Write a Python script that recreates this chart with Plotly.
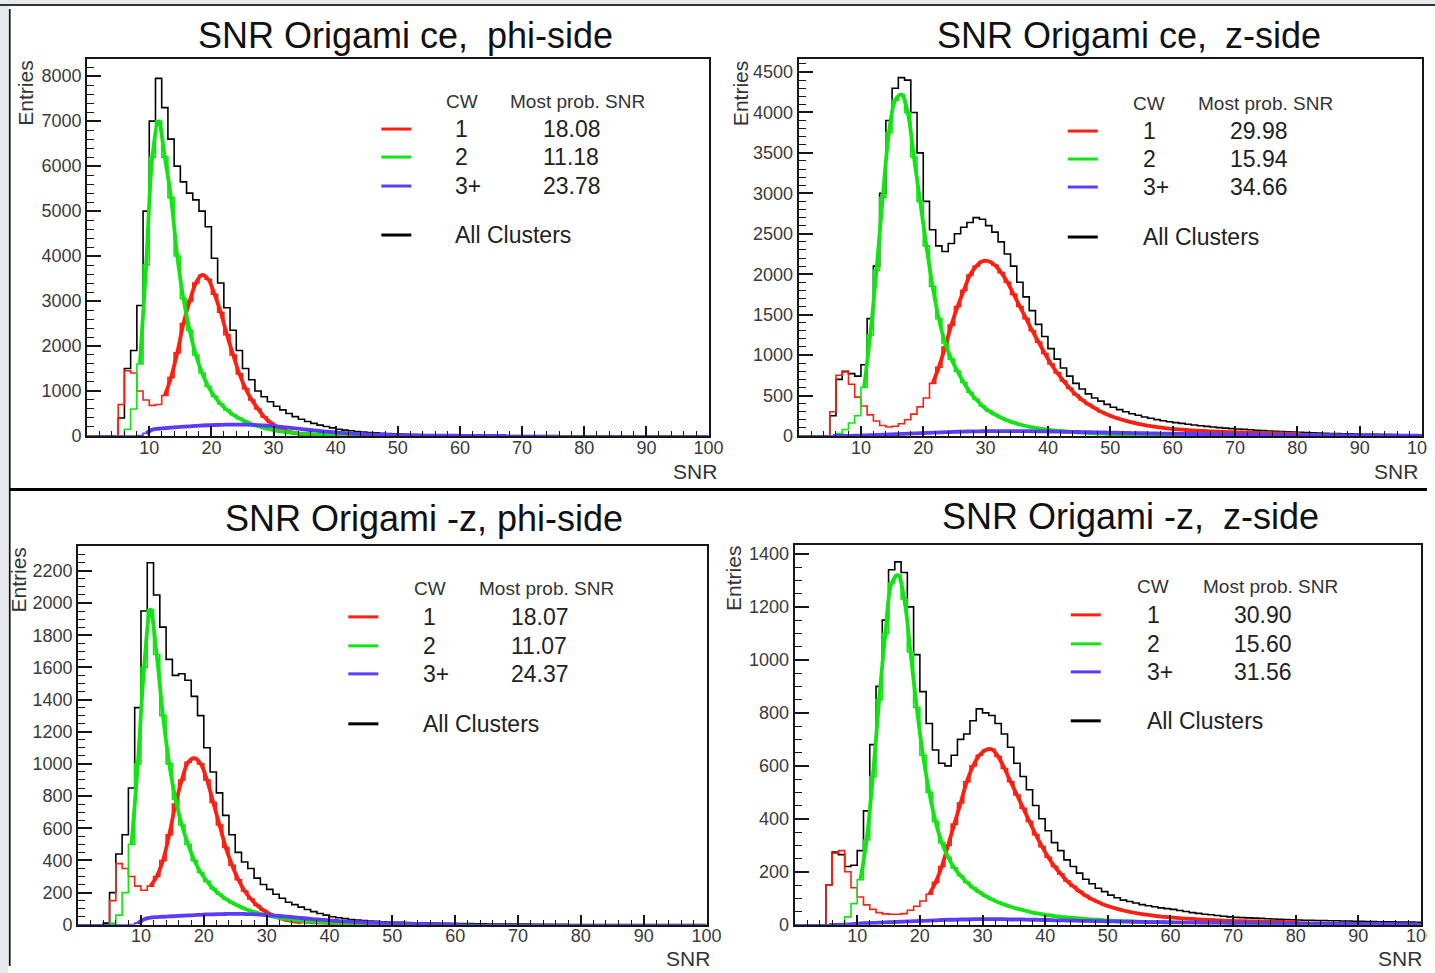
import plotly.graph_objects as go

# ---------------- DATA (1-unit SNR bins, bin k covers [k, k+1)) ----------------
BIN_LO = 0
BIN_W = 1

# Panel 1: SNR Origami ce, phi-side
ce_phi_all = [0,0,0,0,0,400,1500,1900,2900,5000,
              7000,7950,7300,6600,6000,5650,5400,5250,5000,4650,
              3950,3400,2850,2350,1900,1500,1250,1000,870,760,
              660,580,500,430,370,320,280,240,210,180,
              150,130,115,100,88,78,68,60,52,46,
              40,36,32,29,26,23,21,19,17,16,
              15,14,13,12,11,10,10,9,9,8,
              8,7,7,6,6,6,5,5,5,5,
              4,4,4,4,4,3,3,3,3,3,
              3,3,3,2,2,2,2,2,2,2]
ce_phi_cw1 = [0,0,0,0,0,700,1450,1400,1000,800,
              680,700,900,1300,1850,2500,3000,3400,3580,3480,
              3150,2750,2250,1800,1380,1050,800,600,420,300,
              210,140,90,60,40,27,18,12,8,6,
              5,4,3,3,2,2,2,1,1,1,
              1,1,1,1,0,0,0,0,0,0,
              0,0,0,0,0,0,0,0,0,0,
              0,0,0,0,0,0,0,0,0,0,
              0,0,0,0,0,0,0,0,0,0,
              0,0,0,0,0,0,0,0,0,0]
ce_phi_cw2 = [0,0,0,0,0,0,150,600,1600,3800,
              6200,7000,6200,5300,4000,3050,2350,1800,1400,1100,
              880,710,580,470,390,320,260,215,175,145,
              115,95,78,64,53,44,37,31,26,22,
              19,16,14,12,10,9,8,7,6,5,
              5,4,4,3,3,3,2,2,2,2,
              1,1,1,1,1,1,1,1,1,0,
              0,0,0,0,0,0,0,0,0,0,
              0,0,0,0,0,0,0,0,0,0,
              0,0,0,0,0,0,0,0,0,0]
ce_phi_cw3 = [0,0,0,0,0,0,0,0,10,60,
              140,160,175,185,195,205,215,225,232,238,
              243,247,250,252,252,250,246,240,232,222,
              210,197,183,168,153,138,124,110,97,85,
              74,64,55,47,40,34,29,25,21,18,
              15,13,11,9,8,7,6,5,4,4,
              3,3,3,2,2,2,2,1,1,1,
              1,1,1,0,0,0,0,0,0,0,
              0,0,0,0,0,0,0,0,0,0,
              0,0,0,0,0,0,0,0,0,0]

# Panel 2: SNR Origami ce, z-side
ce_z_all = [0,0,0,0,0,250,700,800,770,740,
            880,1450,2100,3000,3900,4300,4430,4400,4000,3500,
            2900,2550,2350,2280,2380,2500,2580,2640,2700,2680,
            2600,2520,2400,2250,2100,1900,1720,1550,1380,1230,
            1080,950,840,740,650,580,520,470,430,390,
            355,325,300,275,255,235,218,202,188,175,
            165,155,145,135,126,118,110,103,97,91,
            86,81,76,71,66,62,58,55,51,48,
            45,42,39,36,33,31,29,27,25,23,
            21,20,19,18,17,15,14,13,12,11]
ce_z_cw1 = [0,0,0,0,0,300,750,790,640,480,
            370,260,185,130,110,120,150,200,270,360,
            470,650,850,1100,1370,1600,1800,1990,2100,2160,
            2160,2110,2020,1900,1750,1600,1450,1300,1160,1020,
            890,780,680,590,510,445,390,345,300,265,
            235,210,187,167,150,135,122,110,100,91,
            84,78,72,67,63,59,56,53,50,47,
            45,42,40,38,36,34,32,30,28,26,
            24,22,20,19,18,17,16,15,14,13,
            12,11,10,10,9,9,8,8,7,7]
ce_z_cw2 = [0,0,0,0,0,0,30,80,160,250,
            600,1250,2050,2950,3750,4150,4220,4000,3450,2900,
            2350,1850,1450,1150,950,800,660,540,450,370,
            310,265,225,192,165,142,123,107,94,83,
            73,65,58,51,45,40,36,32,29,26,
            23,21,19,17,15,14,13,12,11,10,
            9,8,8,7,7,6,6,5,5,5,
            4,4,4,4,3,3,3,3,3,3,
            2,2,2,2,2,2,2,2,2,2,
            1,1,1,1,1,1,1,1,1,1]
ce_z_cw3 = [0,0,0,0,0,0,0,0,2,4,
            6,9,12,15,18,22,25,28,31,34,
            37,40,43,46,49,52,54,56,57,58,
            59,60,60,60,60,59,59,58,57,56,
            55,54,52,51,49,48,46,45,43,42,
            40,39,37,36,34,33,32,30,29,28,
            27,26,25,24,23,22,21,20,19,18,
            17,16,16,15,14,14,13,12,12,11,
            11,10,10,9,9,9,8,8,8,7,
            7,7,6,6,6,6,5,5,5,5]

# Panel 3: SNR Origami -z, phi-side
mz_phi_all = [0,0,0,0,10,200,440,560,850,1350,
              1950,2250,2050,1850,1650,1550,1560,1520,1420,1300,
              1100,950,820,680,560,450,390,350,290,250,
              220,190,165,140,125,110,95,82,70,60,
              50,44,38,33,29,26,23,21,19,17,
              16,15,14,13,12,11,10,9,9,8,
              8,7,7,6,6,5,5,5,4,4,
              4,4,3,3,3,3,3,3,2,2,
              2,2,2,2,2,2,2,2,2,2,
              2,1,1,1,1,1,1,1,1,1]
mz_phi_cw1 = [0,0,0,0,0,150,380,350,300,240,
              215,240,300,400,560,750,900,1010,1035,1000,
              900,760,620,480,370,280,210,160,120,90,
              68,50,37,27,20,15,11,8,6,5,
              4,3,3,2,2,2,1,1,1,1,
              0,0,0,0,0,0,0,0,0,0,
              0,0,0,0,0,0,0,0,0,0,
              0,0,0,0,0,0,0,0,0,0,
              0,0,0,0,0,0,0,0,0,0,
              0,0,0,0,0,0,0,0,0,0]
mz_phi_cw2 = [0,0,0,0,0,10,60,200,500,1000,
              1600,1960,1680,1300,1000,780,620,500,400,325,
              270,225,190,160,137,118,100,86,74,63,
              55,47,40,34,29,25,21,18,16,14,
              12,10,9,8,7,6,5,5,4,4,
              3,3,3,2,2,2,2,1,1,1,
              1,1,1,0,0,0,0,0,0,0,
              0,0,0,0,0,0,0,0,0,0,
              0,0,0,0,0,0,0,0,0,0,
              0,0,0,0,0,0,0,0,0,0]
mz_phi_cw3 = [0,0,0,0,0,0,0,0,2,10,
              35,45,48,50,52,54,56,58,60,62,
              64,65,66,67,68,68,67,66,64,62,
              59,56,53,50,46,42,39,35,32,29,
              26,23,21,19,17,15,13,12,10,9,
              8,7,6,6,5,5,4,4,3,3,
              3,3,2,2,2,2,2,1,1,1,
              1,1,1,1,0,0,0,0,0,0,
              0,0,0,0,0,0,0,0,0,0,
              0,0,0,0,0,0,0,0,0,0]

# Panel 4: SNR Origami -z, z-side
mz_z_all = [0,0,0,0,0,150,275,265,220,225,
            280,430,680,900,1150,1340,1370,1330,1200,1020,
            880,760,660,610,600,640,700,720,770,815,
            800,790,760,720,670,610,560,510,450,400,
            355,310,280,245,220,195,172,155,138,125,
            112,102,93,88,82,76,72,68,64,61,
            58,54,50,46,43,40,38,35,32,30,
            28,27,26,25,24,23,22,21,20,19,
            18,17,17,16,16,15,15,14,14,13,
            13,12,12,11,11,11,10,10,10,9]
mz_z_cw1 = [0,0,0,0,0,150,270,280,200,140,
            105,75,58,46,41,40,40,42,55,70,
            90,115,160,220,300,380,460,540,600,640,
            660,662,635,590,540,490,440,390,340,295,
            255,220,192,165,145,126,110,96,85,75,
            67,60,54,49,44,40,37,34,31,29,
            27,25,23,22,20,19,18,17,16,15,
            14,14,13,13,12,12,11,11,10,10,
            9,9,8,8,8,7,7,7,6,6,
            6,5,5,5,5,4,4,4,4,4]
mz_z_cw2 = [0,0,0,0,0,0,0,5,30,80,
            170,320,560,850,1100,1290,1320,1230,1030,820,
            640,500,390,310,255,215,185,160,140,123,
            108,96,85,76,68,61,55,49,44,40,
            36,33,30,28,26,24,22,20,19,17,
            16,15,14,13,12,11,11,10,10,9,
            9,8,8,7,7,7,6,6,6,5,
            5,5,4,4,4,4,3,3,3,3,
            3,3,2,2,2,2,2,2,2,2,
            2,1,1,1,1,1,1,1,1,1]
mz_z_cw3 = [0,0,0,0,0,0,0,0,1,3,
            5,6,7,8,9,10,11,12,13,14,
            15,16,17,18,19,19,20,20,21,21,
            21,21,21,21,20,20,20,19,19,18,
            18,17,17,16,16,15,15,14,14,13,
            13,12,12,12,11,11,10,10,10,9,
            9,9,8,8,8,7,7,7,7,6,
            6,6,6,5,5,5,5,5,4,4,
            4,4,4,4,4,3,3,3,3,3,
            3,3,3,3,2,2,2,2,2,2]

# Legend values (most probable SNR from the fits)
cw_labels = ["1", "2", "3+"]
mpv_ce_phi = ["18.08", "11.18", "23.78"]
mpv_ce_z = ["29.98", "15.94", "34.66"]
mpv_mz_phi = ["18.07", "11.07", "24.37"]
mpv_mz_z = ["30.90", "15.60", "31.56"]

# Fit ranges (first bin, last bin) for cw1, cw2, cw3+
fit_ce_phi = [(12, 40), (8, 50), (9, 67)]
fit_ce_z = [(21, 80), (10, 60), (5, 99)]
fit_mz_phi = [(11, 35), (8, 45), (9, 60)]
fit_mz_z = [(21, 80), (10, 60), (5, 99)]

# ---------------- LAYOUT / STYLE ----------------
# The photographed page is ~1451x984 css px shrunk to 1435x973; the page keeps its
# default 8px body margin.  Positions below are given in photo pixels.
S = 1451 / 1435
OFF = 8
W, H = 1443, 968
def px(x):                   # photo pixel -> paper fraction
    return (x * S - OFF) / W
def py(y):
    return 1 - (y * S - OFF) / H

FONT = "Liberation Sans, Arial, Helvetica, sans-serif"
RED, GREEN, BLUE, BLACK = "#ff1f10", "#12e312", "#5a3cff", "#000000"
COLS = [RED, GREEN, BLUE]
GREY = "#e7e9ec"

panels = [
    dict(all=ce_phi_all, cws=[ce_phi_cw1, ce_phi_cw2, ce_phi_cw3], fits=fit_ce_phi, mpv=mpv_ce_phi,
         box=(87, 58, 708, 435), ymax=8380, dtick=1000, mdtick=200,
         title=[("SNR Origami ce,", 470, "right"), ("phi-side", 485, "left")], ty=34,
         ent=(25, 58), snr=(718, 471),
         leg=dict(lx=(381, 411), cw=(444, 508), item=453, val=541, hy=100, rows=[128, 156, 185], ally=234)),
    dict(all=ce_z_all, cws=[ce_z_cw1, ce_z_cw2, ce_z_cw3], fits=fit_ce_z, mpv=mpv_ce_z,
         box=(798, 58, 1421, 435), ymax=4660, dtick=500, mdtick=100,
         title=[("SNR Origami ce,", 1208, "right"), ("z-side", 1222, "left")], ty=34,
         ent=(740, 58), snr=(1419, 471),
         leg=dict(lx=(1067, 1097), cw=(1130, 1195), item=1140, val=1227, hy=102, rows=[130, 158, 186], ally=236)),
    dict(all=mz_phi_all, cws=[mz_phi_cw1, mz_phi_cw2, mz_phi_cw3], fits=fit_mz_phi, mpv=mpv_mz_phi,
         box=(78, 545, 706, 924), ymax=2355, dtick=200, mdtick=50,
         title=[("SNR Origami -z, phi-side", 424, "center")], ty=518,
         ent=(18, 545), snr=(711, 958),
         leg=dict(lx=(348, 378), cw=(412, 477), item=421, val=509, hy=588, rows=[616, 645, 673], ally=723)),
    dict(all=mz_z_all, cws=[mz_z_cw1, mz_z_cw2, mz_z_cw3], fits=fit_mz_z, mpv=mpv_mz_z,
         box=(794, 544, 1420, 924), ymax=1434, dtick=200, mdtick=50,
         title=[("SNR Origami -z,", 1205, "right"), ("z-side", 1220, "left")], ty=516,
         ent=(733, 543), snr=(1423, 958),
         leg=dict(lx=(1070, 1100), cw=(1134, 1200), item=1144, val=1231, hy=586, rows=[614, 643, 671], ally=720)),
]

fig = go.Figure()
shapes = []
annotations = []

# page frame: left black border and the black separator between the rows
shapes.append(dict(type="line", xref="paper", yref="paper", x0=px(9.5), x1=px(9.5), y0=0, y1=1,
                   line=dict(color="#111111", width=2)))
shapes.append(dict(type="line", xref="paper", yref="paper", x0=px(9), x1=1, y0=py(488.5), y1=py(488.5),
                   line=dict(color="#000000", width=3)))
shapes.append(dict(type="rect", xref="paper", yref="paper", x0=0, x1=px(8.6), y0=0, y1=1,
                   fillcolor=GREY, line=dict(width=0)))

edges = [BIN_LO + BIN_W * k for k in range(len(ce_phi_all) + 1)]
centers = [BIN_LO + BIN_W * (k + 0.5) for k in range(len(ce_phi_all))]

for i, p in enumerate(panels):
    n = "" if i == 0 else str(i + 1)
    xa, ya = "x" + n, "y" + n
    l, t, r, b = p["box"]
    # histograms (thin, step)
    hists = [(p["all"], BLACK)] + list(zip(p["cws"], COLS))
    for vals, col in hists:
        fig.add_trace(go.Scatter(x=edges, y=list(vals) + [vals[-1]], mode="lines",
                                 line=dict(color=col, width=1.6, shape="hv"),
                                 xaxis=xa, yaxis=ya, showlegend=False, hoverinfo="skip"))
    # fits (thick, smooth)
    for vals, col, (a, z) in zip(p["cws"], COLS, p["fits"]):
        fig.add_trace(go.Scatter(x=centers[a:z + 1], y=vals[a:z + 1], mode="lines",
                                 line=dict(color=col, width=3.8, shape="spline", smoothing=1.0),
                                 xaxis=xa, yaxis=ya, showlegend=False, hoverinfo="skip"))

    axcommon = dict(showline=True, linecolor="#161616", linewidth=2, mirror=True,
                    ticks="inside", tickcolor="#161616", tickwidth=1.6,
                    showgrid=False, zeroline=False,
                    tickfont=dict(family=FONT, size=18, color="#3a3a3a"))
    fig.layout["xaxis" + n] = dict(axcommon, domain=[px(l), px(r)], range=[0, 100], anchor=ya,
                                   tickmode="array", tickvals=[10, 20, 30, 40, 50, 60, 70, 80, 90, 100],
                                   ticklen=10, ticklabelstandoff=-6,
                                   minor=dict(ticks="inside", ticklen=5, tickwidth=1.3, tickcolor="#161616",
                                              tickmode="linear", tick0=0, dtick=2))
    fig.layout["yaxis" + n] = dict(axcommon, domain=[py(b), py(t)], range=[0, p["ymax"]], anchor=xa,
                                   tickmode="linear", tick0=0, dtick=p["dtick"], ticklen=14,
                                   minor=dict(ticks="inside", ticklen=7, tickwidth=1.3, tickcolor="#161616",
                                              tickmode="linear", tick0=0, dtick=p["mdtick"]))

    # titles
    for txt, x, anc in p["title"]:
        annotations.append(dict(text=txt, x=px(x), y=py(p["ty"]), xref="paper", yref="paper",
                                xanchor=anc, yanchor="middle", showarrow=False,
                                font=dict(family=FONT, size=36, color="#111111")))
    # axis titles
    annotations.append(dict(text="Entries", x=px(p["ent"][0]), y=py(p["ent"][1]), xref="paper", yref="paper",
                            xanchor="center", yanchor="top", textangle=-90, showarrow=False,
                            font=dict(family=FONT, size=21, color="#333333")))
    annotations.append(dict(text="SNR", x=px(p["snr"][0]), y=py(p["snr"][1]), xref="paper", yref="paper",
                            xanchor="right", yanchor="middle", showarrow=False,
                            font=dict(family=FONT, size=21, color="#333333")))
    # legend
    lg = p["leg"]
    annotations.append(dict(text="CW", x=px(lg["cw"][0]), y=py(lg["hy"]), xref="paper", yref="paper",
                            xanchor="left", yanchor="middle", showarrow=False,
                            font=dict(family=FONT, size=19, color="#333333")))
    annotations.append(dict(text="Most prob. SNR", x=px(lg["cw"][1]), y=py(lg["hy"]), xref="paper", yref="paper",
                            xanchor="left", yanchor="middle", showarrow=False,
                            font=dict(family=FONT, size=19, color="#333333")))
    for lab, val, col, yy in zip(cw_labels, p["mpv"], COLS, lg["rows"]):
        shapes.append(dict(type="line", xref="paper", yref="paper", x0=px(lg["lx"][0]), x1=px(lg["lx"][1]),
                           y0=py(yy), y1=py(yy), line=dict(color=col, width=3)))
        annotations.append(dict(text=lab, x=px(lg["item"]), y=py(yy), xref="paper", yref="paper",
                                xanchor="left", yanchor="middle", showarrow=False,
                                font=dict(family=FONT, size=23, color="#222222")))
        annotations.append(dict(text=val, x=px(lg["val"]), y=py(yy), xref="paper", yref="paper",
                                xanchor="left", yanchor="middle", showarrow=False,
                                font=dict(family=FONT, size=23, color="#222222")))
    shapes.append(dict(type="line", xref="paper", yref="paper", x0=px(lg["lx"][0]), x1=px(lg["lx"][1]),
                       y0=py(lg["ally"]), y1=py(lg["ally"]), line=dict(color=BLACK, width=3)))
    annotations.append(dict(text="All Clusters", x=px(lg["item"]), y=py(lg["ally"]), xref="paper", yref="paper",
                            xanchor="left", yanchor="middle", showarrow=False,
                            font=dict(family=FONT, size=23, color="#222222")))

fig.update_layout(width=W, height=H, margin=dict(l=0, r=0, t=0, b=0),
                  paper_bgcolor="white", plot_bgcolor="white",
                  shapes=shapes, annotations=annotations, showlegend=False)

# page background: grey strips at left/top with a dark top rule, white elsewhere
page_bg = ("linear-gradient(to bottom, " + GREY + " 0px, " + GREY + " 4px, #333333 4px, #333333 6px, "
           "rgba(0,0,0,0) 6px), linear-gradient(to right, " + GREY + " 9px, #ffffff 9px)")
fig.write_html("out.html", config={"displayModeBar": False},
               post_script="document.body.style.background='" + page_bg + "';"
                           "document.documentElement.style.overflow='hidden';"
                           "document.body.style.overflow='hidden';")
